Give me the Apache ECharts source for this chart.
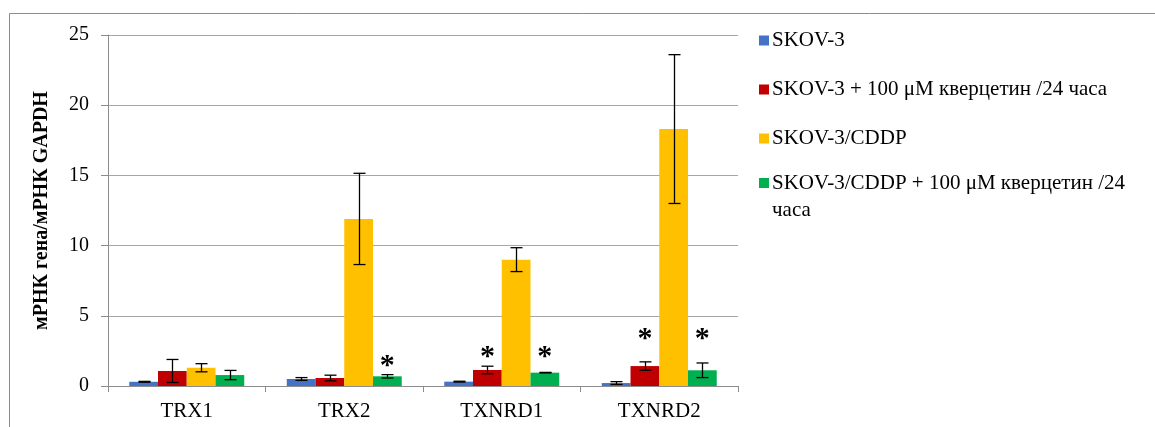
<!DOCTYPE html>
<html>
<head>
<meta charset="utf-8">
<script src="https://cdn.jsdelivr.net/npm/echarts@6/dist/echarts.min.js"></script>
<style>
  html, body { margin: 0; padding: 0; background: #fff; }
  #chart { width: 1155px; height: 427px; }
</style>
</head>
<body>
<div id="chart"></div>
<script>
// Gene expression relative to GAPDH
const categories = ['TRX1', 'TRX2', 'TXNRD1', 'TXNRD2'];
const seriesNames = [
  'SKOV-3',
  'SKOV-3 + 100 μM кверцетин /24 часа',
  'SKOV-3/CDDP',
  'SKOV-3/CDDP + 100 μM кверцетин /24 часа'
];
const colors = ['#4472C4', '#C00000', '#FFC000', '#00B050'];

const skov3        = [0.30, 0.50, 0.31, 0.21];
const skov3Err     = [0.03, 0.10, 0.03, 0.10];
const skov3Q       = [1.07, 0.57, 1.14, 1.42];
const skov3QErr    = [0.82, 0.20, 0.27, 0.30];
const cddp         = [1.30, 11.90, 9.00, 18.30];
const cddpErr      = [0.29, 3.25, 0.85, 5.30];
const cddpQ        = [0.78, 0.69, 0.95, 1.12];
const cddpQErr     = [0.33, 0.12, 0.02, 0.52];

// significance marks: flag per category for the quercetin-treated groups
const sigSkov3Q = [0, 0, 1, 1];
const sigCddpQ  = [0, 1, 1, 1];
const sigLevel  = [null, 1.73, 2.37, 3.68];

const yTicks = [0, 5, 10, 15, 20, 25];

const values = [skov3, skov3Q, cddp, cddpQ];
const errors = [skov3Err, skov3QErr, cddpErr, cddpQErr];
const CAT_GAP = 0.27;
const FONT = '"Liberation Serif", "Times New Roman", serif';

function barCenter(api, ci, idx) {
  const catW = api.size([1, 0])[0];
  const barW = catW * (1 - CAT_GAP) / 4;
  return api.coord([ci, 0])[0] + (idx - 1.5) * barW;
}

function errorSeries(idx) {
  return {
    type: 'custom',
    z: 5,
    silent: true,
    data: values[idx].map((v, i) => [i, v, errors[idx][i]]),
    encode: { x: 0, y: 1 },
    renderItem(params, api) {
      const ci = api.value(0), v = api.value(1), e = api.value(2);
      const x = Math.round(barCenter(api, ci, idx)) + 0.5;
      const yT = api.coord([ci, v + e])[1];
      const yB = api.coord([ci, v - e])[1];
      const cap = 6;
      const st = { stroke: '#000', lineWidth: 1.3 };
      return {
        type: 'group',
        children: [
          { type: 'line', shape: { x1: x, y1: yT, x2: x, y2: yB }, style: st },
          { type: 'line', shape: { x1: x - cap, y1: yT, x2: x + cap, y2: yT }, style: st },
          { type: 'line', shape: { x1: x - cap, y1: yB, x2: x + cap, y2: yB }, style: st }
        ]
      };
    }
  };
}

const sigData = [];
sigSkov3Q.forEach((f, i) => { if (f) sigData.push([i, sigLevel[i], 1]); });
sigCddpQ.forEach((f, i) => { if (f) sigData.push([i, sigLevel[i], 3]); });

const chart = echarts.init(document.getElementById('chart'), null, { renderer: 'canvas' });

chart.setOption({
  animation: false,
  backgroundColor: '#fff',
  textStyle: { fontFamily: FONT },
  graphic: [{
    type: 'rect', z: -10, silent: true,
    shape: { x: 9.5, y: 13.5, width: 1400, height: 800 },
    style: { fill: 'none', stroke: '#8c8c8c', lineWidth: 1 }
  }],
  grid: { left: 108, right: 417, top: 35, bottom: 41 },
  legend: [{
    data: seriesNames.slice(0, 3),
    orient: 'vertical',
    left: 759, top: 30,
    padding: 0,
    itemWidth: 10, itemHeight: 10, itemGap: 28,
    icon: 'rect',
    textStyle: { fontFamily: FONT, fontSize: 21, color: '#000', lineHeight: 20, padding: [0, 0, 0, -2] }
  }, {
    data: [seriesNames[3]],
    orient: 'vertical',
    left: 759, top: 142.5,
    padding: 0,
    itemWidth: 10, itemHeight: 10,
    icon: 'rect',
    // leading blank line keeps the first text line level with the swatch
    formatter: () => ' \nSKOV-3/CDDP + 100 μM кверцетин /24\nчаса',
    textStyle: { fontFamily: FONT, fontSize: 21, color: '#000', lineHeight: 27, padding: [0, 0, 0, -2] }
  }],
  xAxis: {
    type: 'category',
    data: categories,
    axisLine: { lineStyle: { color: '#8c8c8c', width: 1 } },
    axisTick: { show: true, length: 6, lineStyle: { color: '#8c8c8c' } },
    axisLabel: { color: '#000', fontFamily: FONT, fontSize: 21, margin: 15 }
  },
  yAxis: {
    type: 'value',
    min: yTicks[0], max: yTicks[yTicks.length - 1], interval: 5,
    name: 'мРНК гена/мРНК GAPDH',
    nameLocation: 'middle',
    nameGap: 56,
    nameTextStyle: { color: '#000', fontFamily: FONT, fontSize: 20, fontWeight: 'bold' },
    axisLine: { show: true, lineStyle: { color: '#8c8c8c', width: 1 } },
    axisTick: { show: true, length: 7, lineStyle: { color: '#8c8c8c' } },
    axisLabel: { color: '#000', fontFamily: FONT, fontSize: 20, margin: 19 },
    splitLine: { show: true, lineStyle: { color: '#a6a6a6', width: 1 } }
  },
  series: [
    ...values.map((vals, idx) => ({
      type: 'bar',
      name: seriesNames[idx],
      data: vals,
      barGap: '0%',
      barCategoryGap: (CAT_GAP * 100) + '%',
      itemStyle: { color: colors[idx] },
      z: 2
    })),
    ...values.map((_, idx) => errorSeries(idx)),
    {
      type: 'custom',
      z: 6,
      silent: true,
      data: sigData,
      encode: { x: 0, y: 1 },
      renderItem(params, api) {
        const ci = api.value(0), lvl = api.value(1), idx = api.value(2);
        const x = barCenter(api, ci, idx);
        const y = api.coord([ci, lvl])[1];
        return {
          type: 'text',
          style: {
            x: x, y: y + 5,
            text: '*',
            fill: '#000',
            font: 'bold 30px ' + FONT,
            align: 'center',
            verticalAlign: 'middle'
          }
        };
      }
    }
  ]
});
</script>
</body>
</html>
